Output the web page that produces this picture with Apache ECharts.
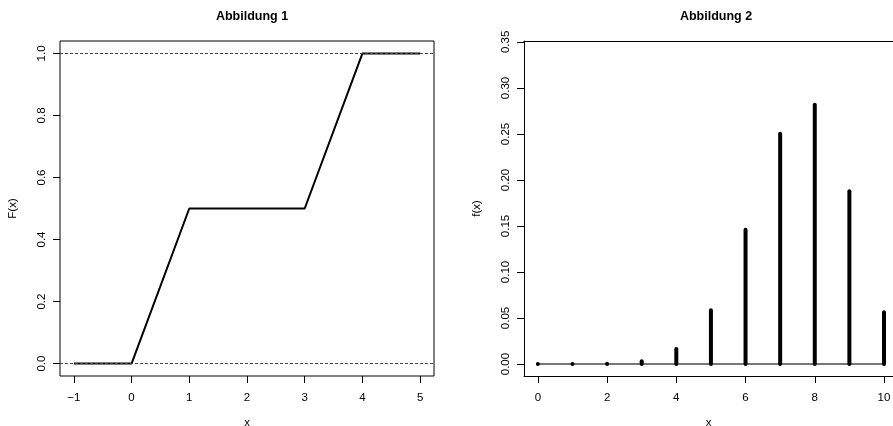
<!DOCTYPE html>
<html>
<head>
<meta charset="utf-8">
<script src="https://cdn.jsdelivr.net/npm/echarts@6/dist/echarts.min.js"></script>
<style>
  html, body { margin: 0; padding: 0; background: #fff; }
  #chart { width: 893px; height: 426px; }
</style>
</head>
<body>
<div id="chart"></div>
<script>
// Abbildung 1: piecewise linear distribution function F(x)
var cdfX = [-1, 0, 1, 3, 4, 5];
var cdfY = [0, 0, 0.5, 0.5, 1, 1];
var cdfRefLines = [0, 1];
var xTicks1 = [-1, 0, 1, 2, 3, 4, 5];
var yTicks1 = [0, 0.2, 0.4, 0.6, 0.8, 1.0];

// Abbildung 2: probability function f(x) as vertical stems
var pmfX = [0, 1, 2, 3, 4, 5, 6, 7, 8, 9, 10];
var pmfY = [0.000001, 0.00003, 0.0004, 0.0031, 0.0162, 0.0584, 0.146, 0.2503, 0.2816, 0.1877, 0.0563];
var xTicks2 = [0, 2, 4, 6, 8, 10];
var yTicks2 = [0, 0.05, 0.10, 0.15, 0.20, 0.25, 0.30, 0.35];

var FONT = '"Liberation Sans", Arial, Helvetica, sans-serif';
var TICK_FS = 11.5;

function pairs(xs, ys) {
  return xs.map(function (x, i) { return [x, ys[i]]; });
}

function xAxisCfg(gridIndex, min, max, ticks, showLine) {
  return {
    type: 'value', gridIndex: gridIndex, min: min, max: max, position: 'bottom',
    name: 'x', nameLocation: 'middle', nameGap: 41,
    nameTextStyle: { color: '#000', fontFamily: FONT, fontSize: TICK_FS },
    splitLine: { show: false },
    axisLine: { show: showLine, onZero: false, lineStyle: { color: '#000', width: 1 } },
    axisTick: { show: true, customValues: ticks, length: 7, lineStyle: { color: '#000', width: 1 } },
    axisLabel: {
      customValues: ticks, color: '#000', fontFamily: FONT, fontSize: TICK_FS, margin: 16,
      formatter: function (v) { return String(v).replace('-', '\u2212'); }
    }
  };
}

function yAxisCfg(gridIndex, min, max, ticks, name, digits, showLine) {
  return {
    type: 'value', gridIndex: gridIndex, min: min, max: max, position: 'left',
    name: name, nameLocation: 'middle', nameGap: 41,
    nameTextStyle: { color: '#000', fontFamily: FONT, fontSize: TICK_FS },
    splitLine: { show: false },
    axisLine: { show: showLine, onZero: false, lineStyle: { color: '#000', width: 1 } },
    axisTick: { show: true, customValues: ticks, length: 7, lineStyle: { color: '#000', width: 1 } },
    axisLabel: {
      customValues: ticks, rotate: 90, color: '#000', fontFamily: FONT, fontSize: TICK_FS, margin: 12,
      formatter: function (v) { return Number(v).toFixed(digits); }
    }
  };
}

var chart = echarts.init(document.getElementById('chart'), null, { renderer: 'canvas' });

chart.setOption({
  animation: false,
  backgroundColor: '#fff',
  title: [
    { text: 'Abbildung 1', left: 247, top: 5, textAlign: 'center',
      textStyle: { fontFamily: FONT, fontWeight: 'bold', fontSize: 12.5, color: '#000' } },
    { text: 'Abbildung 2', left: 711, top: 5, textAlign: 'center',
      textStyle: { fontFamily: FONT, fontWeight: 'bold', fontSize: 12.5, color: '#000' } }
  ],
  grid: [
    { left: 60, top: 41, width: 374, height: 335, outerBoundsMode: 'none',
      show: true, borderColor: '#000', borderWidth: 1, backgroundColor: 'transparent' },
    // right-hand panel runs off the right edge of the page, so its frame is built from axis lines
    { left: 524, top: 41, right: 0, height: 335, outerBoundsMode: 'none', show: false }
  ],
  xAxis: [
    xAxisCfg(0, -1.24, 5.24, xTicks1, false),
    xAxisCfg(1, -0.4, 10.26, xTicks2, true),
    {
      type: 'value', gridIndex: 1, min: -0.4, max: 10.26, position: 'top',
      splitLine: { show: false }, axisTick: { show: false }, axisLabel: { show: false },
      axisLine: { show: true, onZero: false, lineStyle: { color: '#000', width: 1 } }
    }
  ],
  yAxis: [
    yAxisCfg(0, -0.04, 1.04, yTicks1, 'F(x)', 1, false),
    yAxisCfg(1, -0.013, 0.351, yTicks2, 'f(x)', 2, true)
  ],
  series: [
    {
      type: 'line', xAxisIndex: 0, yAxisIndex: 0,
      data: pairs(cdfX, cdfY),
      symbol: 'none',
      lineStyle: { color: '#000', width: 2 },
      markLine: {
        silent: true, symbol: 'none', label: { show: false },
        lineStyle: { color: '#444', width: 1, type: [3, 2] },
        data: cdfRefLines.map(function (v) { return { yAxis: v }; })
      },
      z: 3
    },
    {
      type: 'line', xAxisIndex: 1, yAxisIndex: 1,
      data: [[pmfX[0], 0], [pmfX[pmfX.length - 1], 0]],
      symbol: 'none',
      lineStyle: { color: '#777', width: 2 },
      z: 2
    },
    {
      type: 'custom', xAxisIndex: 1, yAxisIndex: 1,
      data: pairs(pmfX, pmfY),
      z: 4,
      renderItem: function (params, api) {
        var base = api.coord([api.value(0), 0]);
        var top = api.coord([api.value(0), api.value(1)]);
        return {
          type: 'line',
          shape: { x1: base[0], y1: base[1], x2: top[0], y2: top[1] - 0.01 },
          style: { stroke: '#000', lineWidth: 4, lineCap: 'round' }
        };
      }
    }
  ]
});
</script>
</body>
</html>
